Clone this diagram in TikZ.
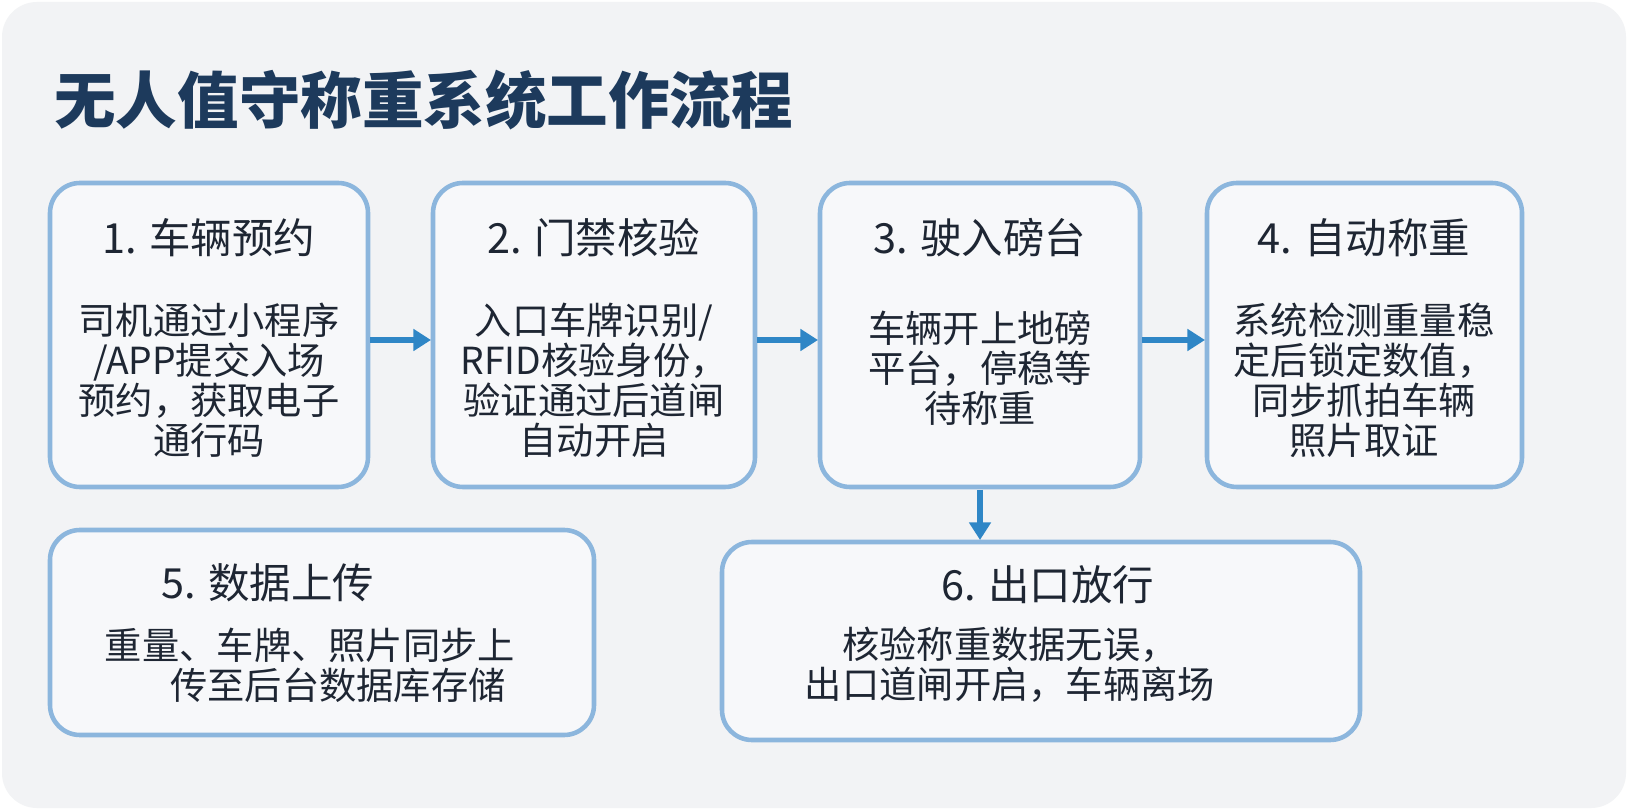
\documentclass[tikz,border=0pt]{standalone}
\usepackage{fontspec}
\setmainfont{Noto Sans CJK SC}
\usetikzlibrary{positioning,arrows.meta}
\definecolor{bgcol}{HTML}{F2F3F5}
\definecolor{titlecol}{HTML}{1D3A5C}
\definecolor{edgecol}{HTML}{8CB6DD}
\definecolor{boxcol}{HTML}{F7F8FA}
\definecolor{arrowcol}{HTML}{2F86C6}
\definecolor{textcol}{HTML}{1E2633}
\begin{document}
\begin{tikzpicture}[x=0.01cm,y=-0.01cm,
    stepbox/.style={draw=edgecol, line width=1.3pt, fill=boxcol, rounded corners=0.3cm},
    head/.style={text=textcol, font=\fontsize{11.8}{13}\selectfont},
    body/.style={text=textcol, align=center, font=\fontsize{10.6}{11.4}\selectfont},
    flow/.style={-{Triangle[length=5pt,width=6pt]}, draw=arrowcol, line width=1.6pt},
  ]
  % background
  \fill[white] (0,0) rectangle (1628,810);
  \fill[bgcol, rounded corners=0.35cm] (2,2) rectangle (1626,808);
  \node[anchor=west, text=titlecol, font=\fontsize{17.5}{19}\selectfont\bfseries] (title) at (42,100) {无人值守称重系统工作流程};
  % boxes
  \draw[stepbox] (50,183) rectangle (368,487);
  \draw[stepbox] (433,183) rectangle (755,487);
  \draw[stepbox] (820,183) rectangle (1140,487);
  \draw[stepbox] (1207,183) rectangle (1522,487);
  \draw[stepbox] (50,530) rectangle (594,735);
  \draw[stepbox] (722,542) rectangle (1360,740);
  \coordinate (b1r) at (370,340); \coordinate (b2l) at (431,340);
  \coordinate (b2r) at (757,340); \coordinate (b3l) at (818,340);
  \coordinate (b3r) at (1142,340); \coordinate (b4l) at (1205,340);
  \coordinate (b3b) at (980,490); \coordinate (b6t) at (980,540);
  % headings
  \node[head] (h1) at (209,238) {1. 车辆预约};
  \node[head] (h2) at (594,238) {2. 门禁核验};
  \node[head] (h3) at (980,238) {3. 驶入磅台};
  \node[head] (h4) at (1364,238) {4. 自动称重};
  \node[head] (h5) at (268,583) {5. 数据上传};
  \node[head] (h6) at (1048,585) {6. 出口放行};
  % texts
  \node[body] (t1) at (209,380) {司机通过小程序\\/APP提交入场\\预约，获取电子\\通行码};
  \node[body] (t2) at (594,380) {入口车牌识别/\\RFID核验身份，\\验证通过后道闸\\自动开启};
  \node[body] (t3) at (980,368) {车辆开上地磅\\平台，停稳等\\待称重};
  \node[body] (t4) at (1364,380) {系统检测重量稳\\定后锁定数值，\\同步抓拍车辆\\照片取证};
  \node[body] (t5) at (310,665) {重量、车牌、照片同步上\\\hspace*{1.5em}传至后台数据库存储};
  \node[body] (t6) at (1010,665) {核验称重数据无误，\\出口道闸开启，车辆离场};
  % arrows
  \draw[flow] (b1r) -- (b2l);
  \draw[flow] (b2r) -- (b3l);
  \draw[flow] (b3r) -- (b4l);
  \draw[flow] (b3b) -- (b6t);
\end{tikzpicture}
\end{document}
